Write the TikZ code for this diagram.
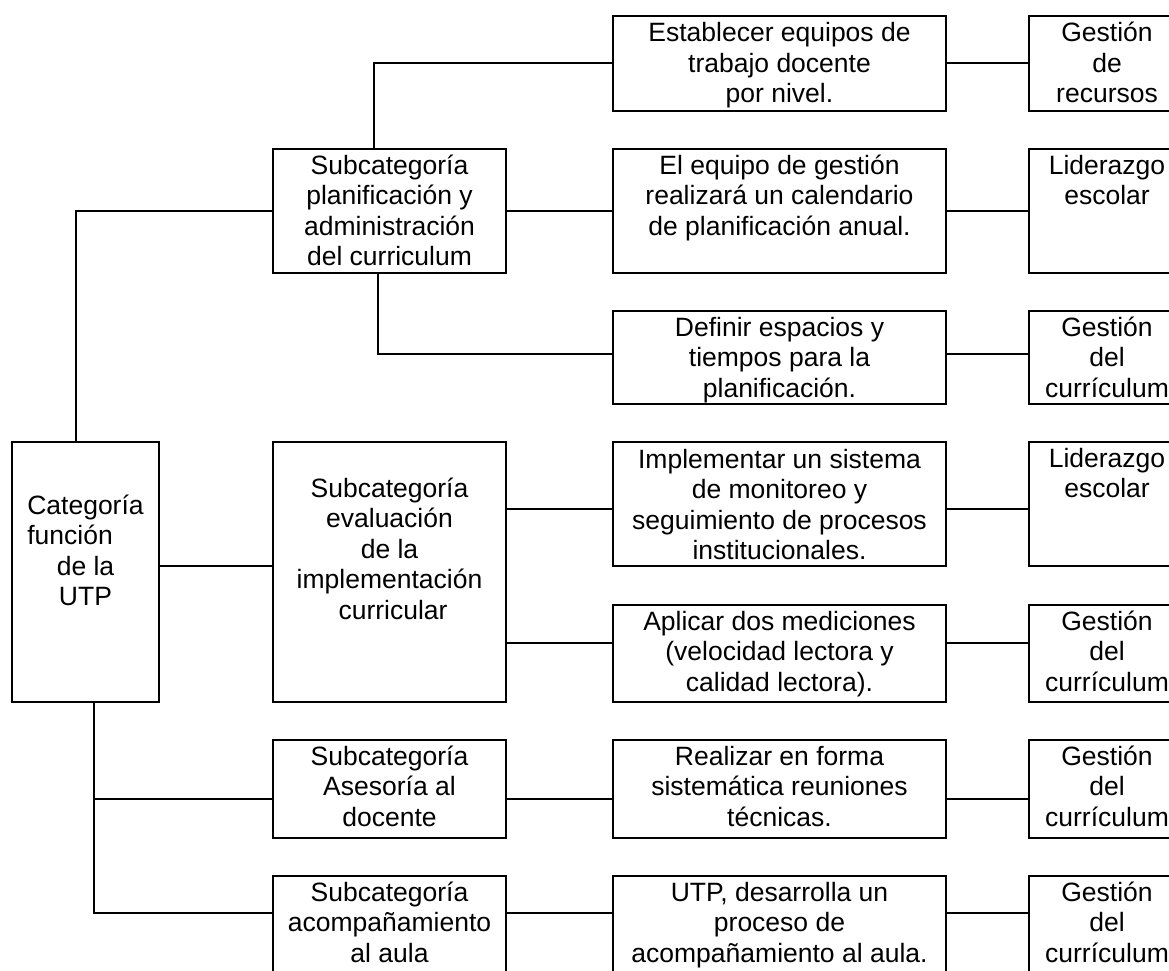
\documentclass[tikz,border=0pt]{standalone}
\usepackage{fontspec}
\setmainfont{Liberation Sans}
% #1 name, #2 x, #3 y (top-left), #4 width, #5 height, #6 first baseline below top, #7 text
\newcommand\cellnode[7]{%
  \node[cell, minimum width=#4pt, minimum height=#5pt] (#1) at (#2,#3)
    {\parbox[c][#5pt][t]{#4pt}{\centering\rule{0pt}{#6pt}#7}};}
\begin{document}
\begin{tikzpicture}[x=1pt,y=-1pt,
  cell/.style={draw, line width=2pt, inner sep=0pt, outer sep=0pt, anchor=north west,
    font=\fontsize{26.5}{30.5}\selectfont},
  link/.style={line width=2pt}]
\useasboundingbox (0,0) rectangle (1169,971);
\clip (0,0) rectangle (1169,971);

% main category and sub-categories
\cellnode{cat}{12}{442}{147}{260}{72}{Categoría\\\leavevmode\rlap{función}\phantom{Categoría}\\de la\\UTP}
\cellnode{sub1}{273}{149}{233}{124}{25}{Subcategoría\\planificación y\\administración\\del curriculum}
\cellnode{sub2}{273}{442}{233}{260}{55}{Subcategoría\\evaluación\\de la\\implementación\\\hspace*{7pt}curricular}
\cellnode{sub3}{273}{740}{233}{98}{25}{Subcategoría\\Asesoría al\\docente}
\cellnode{sub4}{273}{876}{233}{98}{25}{Subcategoría\\acompañamiento\\al aula}

% actions
\cellnode{est}{613}{16}{333}{95}{26}{Establecer equipos de\\trabajo docente\\por nivel.}
\cellnode{eq}{613}{149}{333}{124}{25}{El equipo de gestión\\realizará un calendario\\de planificación anual.}
\cellnode{def}{613}{311}{333}{93}{25}{Definir espacios y\\tiempos para la\\planificación.}
\cellnode{impl}{613}{442}{333}{124}{26}{Implementar un sistema\\de monitoreo y\\seguimiento de procesos\\institucionales.}
\cellnode{apl}{613}{605}{333}{97}{25}{Aplicar dos mediciones\\(velocidad lectora y\\calidad lectora).}
\cellnode{rea}{613}{740}{333}{98}{25}{Realizar en forma\\sistemática reuniones\\técnicas.}
\cellnode{utp}{613}{876}{333}{98}{25}{UTP, desarrolla un\\proceso de\\acompañamiento al aula.}

% management areas
\cellnode{r1}{1029}{16}{156}{95}{26}{Gestión\\de\\recursos}
\cellnode{r2}{1029}{149}{156}{124}{25}{Liderazgo\\escolar}
\cellnode{r3}{1029}{311}{156}{93}{25}{Gestión\\del\\currículum}
\cellnode{r4}{1029}{442}{156}{124}{25}{Liderazgo\\escolar}
\cellnode{r5}{1029}{605}{156}{97}{25}{Gestión\\del\\currículum}
\cellnode{r6}{1029}{740}{156}{98}{25}{Gestión\\del\\currículum}
\cellnode{r7}{1029}{876}{156}{98}{25}{Gestión\\del\\currículum}

% connector heights
\coordinate (ydef) at ([yshift=-43pt]def.north west);
\coordinate (ycat) at ([yshift=-124pt]cat.north east);
\coordinate (yimp) at ([yshift=-67pt]sub2.north east);
\coordinate (yapl) at ([yshift=-201pt]sub2.north east);
\coordinate (l3) at ([yshift=-59pt]sub3.north west);
\coordinate (l4) at ([yshift=-37pt]sub4.north west);

% planning branch
\draw[link] (sub1.west) -| ([xshift=64pt]cat.north west);
\draw[link] ([xshift=101pt]sub1.north west) |- (est.west);
\draw[link] ([xshift=105pt]sub1.south west) |- (ydef -| def.west);
\draw[link] (sub1.east) -- (eq.west);
\draw[link] (est.east) -- (r1.west);
\draw[link] (eq.east) -- (r2.west);
\draw[link] (ydef -| def.east) -- (ydef -| r3.west);

% evaluation branch
\draw[link] (ycat) -- (ycat -| sub2.west);
\draw[link] (yimp) -- (yimp -| impl.west);
\draw[link] (yimp -| impl.east) -- (yimp -| r4.west);
\draw[link] (yapl) -- (yapl -| apl.west);
\draw[link] (yapl -| apl.east) -- (yapl -| r5.west);

% advising and classroom support branches
\draw[link] ([xshift=82pt]cat.south west) coordinate (cb) |- (l4 -| sub4.west);
\draw[link] (cb |- l3) -- (l3 -| sub3.west);
\draw[link] (l3 -| sub3.east) -- (l3 -| rea.west);
\draw[link] (l3 -| rea.east) -- (l3 -| r6.west);
\draw[link] (l4 -| sub4.east) -- (l4 -| utp.west);
\draw[link] (l4 -| utp.east) -- (l4 -| r7.west);
\end{tikzpicture}
\end{document}
